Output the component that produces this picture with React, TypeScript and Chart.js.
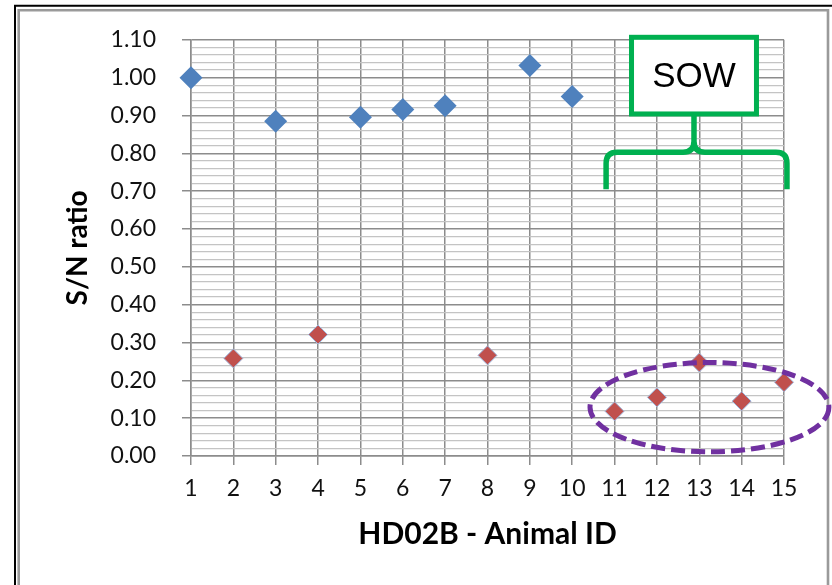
import { useEffect, useRef } from 'react';
import { Chart, registerables } from 'chart.js';

Chart.register(...registerables);

// ---- data ----
const blueIds = [1, 3, 5, 6, 7, 9, 10];
const blueValues = [1.0, 0.885, 0.895, 0.916, 0.926, 1.032, 0.95];
const redIds = [2, 4, 8, 11, 12, 13, 14, 15];
const redValues = [0.258, 0.321, 0.266, 0.118, 0.155, 0.247, 0.145, 0.195];
const xMin = 1;
const xMax = 15;
const yMin = 0;
const yMax = 1.1;
const yMinorStep = 0.02;
const xTitle = 'HD02B - Animal ID';
const yTitle = 'S/N ratio';
const calloutText = 'SOW';

// annotation geometry in data units
const sowBox = { x1: 11.4, x2: 14.35, y1: 1.1066, y2: 0.904 };
const brace = { left: 10.8, right: 15.07, y: 0.8026, bottom: 0.705 };
const ellipse = { cx: 13.24, cy: 0.129, rx: 2.82, ry: 0.118 };

const FONT = "Lato, 'Open Sans', sans-serif";

const annotationPlugin = {
  id: 'annotations',
  afterDraw(chart: any) {
    const ctx = chart.ctx as CanvasRenderingContext2D;
    const xs = chart.scales.x;
    const ys = chart.scales.y;
    const px = (v: number) => xs.getPixelForValue(v);
    const py = (v: number) => ys.getPixelForValue(v);
    ctx.save();

    // frame
    ctx.strokeStyle = '#000';
    ctx.lineWidth = 2;
    ctx.beginPath();
    ctx.moveTo(15, 600);
    ctx.lineTo(15, 5.8);
    ctx.lineTo(840, 5.8);
    ctx.stroke();
    ctx.strokeStyle = '#9a9a9a';
    ctx.lineWidth = 2.6;
    ctx.beginPath();
    ctx.moveTo(18.7, 600);
    ctx.lineTo(18.7, 10.3);
    ctx.lineTo(828, 10.3);
    ctx.lineTo(828, 600);
    ctx.stroke();

    // ellipse
    ctx.strokeStyle = '#7030A0';
    ctx.lineWidth = 5;
    ctx.setLineDash([14, 6]);
    ctx.beginPath();
    const ecx = px(ellipse.cx);
    const ecy = py(ellipse.cy);
    const erx = px(ellipse.cx + ellipse.rx) - ecx;
    const ery = ecy - py(ellipse.cy + ellipse.ry);
    ctx.ellipse(ecx, ecy, erx, ery, 0, 0, Math.PI * 2);
    ctx.stroke();
    ctx.setLineDash([]);

    // SOW box
    const bx1 = px(sowBox.x1);
    const bx2 = px(sowBox.x2);
    const by1 = py(sowBox.y1);
    const by2 = py(sowBox.y2);
    ctx.fillStyle = '#fff';
    ctx.fillRect(bx1, by1, bx2 - bx1, by2 - by1);
    ctx.strokeStyle = '#00B050';
    ctx.lineWidth = 5;
    ctx.strokeRect(bx1, by1, bx2 - bx1, by2 - by1);
    ctx.fillStyle = '#000';
    ctx.font = "35px 'Liberation Sans', Arial, sans-serif";
    ctx.textAlign = 'center';
    ctx.textBaseline = 'middle';
    ctx.fillText(calloutText, (bx1 + bx2) / 2, (by1 + by2) / 2 + 2);

    // brace
    const L = px(brace.left);
    const R = px(brace.right);
    const Y = py(brace.y);
    const B = py(brace.bottom);
    const C = (bx1 + bx2) / 2;
    const T = by2 + 2;
    const r = 11;
    ctx.lineWidth = 5.5;
    ctx.lineJoin = 'round';
    ctx.beginPath();
    ctx.moveTo(L, B);
    ctx.lineTo(L, Y + r);
    ctx.quadraticCurveTo(L, Y, L + r, Y);
    ctx.lineTo(C - r, Y);
    ctx.quadraticCurveTo(C, Y, C, Y - r);
    ctx.lineTo(C, T);
    ctx.moveTo(R, B);
    ctx.lineTo(R, Y + r);
    ctx.quadraticCurveTo(R, Y, R - r, Y);
    ctx.lineTo(C + r, Y);
    ctx.quadraticCurveTo(C, Y, C, Y - r);
    ctx.stroke();

    ctx.restore();
  },
};

export default function App() {
  const ref = useRef<HTMLCanvasElement | null>(null);

  useEffect(() => {
    if (!ref.current) return;
    const chart = new Chart(ref.current, {
      type: 'scatter',
      data: {
        datasets: [
          {
            label: 'blue',
            data: blueIds.map((x, i) => ({ x, y: blueValues[i] })),
            pointStyle: 'rectRot',
            pointRadius: 11.5,
            pointHoverRadius: 11.5,
            backgroundColor: '#4F81BD',
            borderColor: '#4F81BD',
            borderWidth: 0,
            clip: false,
          },
          {
            label: 'red',
            data: redIds.map((x, i) => ({ x, y: redValues[i] })),
            pointStyle: 'rectRot',
            pointRadius: 9.5,
            pointHoverRadius: 9.5,
            backgroundColor: '#C0504D',
            borderColor: '#9DB8DF',
            borderWidth: 1,
            clip: false,
          },
        ],
      },
      options: {
        animation: false,
        responsive: false,
        devicePixelRatio: 1,
        layout: { padding: { left: 0, top: 38, right: 48, bottom: 0 } },
        plugins: { legend: { display: false }, tooltip: { enabled: false } },
        scales: {
          x: {
            type: 'linear',
            min: xMin,
            max: xMax,
            afterFit: (s: any) => {
              s.height = 129;
            },
            ticks: {
              stepSize: 1,
              autoSkip: false,
              padding: 10,
              color: '#111',
              font: { family: FONT, size: 23 },
            },
            grid: { color: '#8c8c8c', lineWidth: 1.5, tickLength: 9 },
            border: { color: '#8c8c8c', width: 1.5 },
            title: {
              display: true,
              text: xTitle,
              color: '#000',
              font: { family: FONT, size: 30, weight: 'bold' },
              padding: { top: 0, bottom: 33 },
            },
          },
          y: {
            type: 'linear',
            min: yMin,
            max: yMax,
            afterFit: (s: any) => {
              s.width = 191;
            },
            ticks: {
              stepSize: yMinorStep,
              autoSkip: false,
              padding: 26,
              color: '#111',
              font: { family: FONT, size: 23 },
              callback: (v: any, i: number) => (i % 5 === 0 ? Number(v).toFixed(2) : ''),
            },
            grid: {
              color: (c: any) => (c.index % 5 === 0 ? '#8c8c8c' : '#c4c4c4'),
              tickColor: (c: any) => (c.index % 5 === 0 ? '#8c8c8c' : 'rgba(0,0,0,0)'),
              lineWidth: (c: any) => (c.index % 5 === 0 ? 1.5 : 1.2),
              tickLength: 9,
            },
            border: { color: '#8c8c8c', width: 1.5 },
            title: {
              display: true,
              text: yTitle,
              color: '#000',
              font: { family: FONT, size: 28, weight: 'bold' },
              padding: { top: 61, bottom: 0 },
            },
          },
        },
      },
      plugins: [annotationPlugin],
    });
    return () => chart.destroy();
  }, []);

  return (
    <div style={{ position: 'fixed', left: 0, top: 0, width: 832, height: 585, background: '#fff' }}>
      <canvas ref={ref} width={832} height={585} style={{ width: 832, height: 585, display: 'block' }} />
    </div>
  );
}
